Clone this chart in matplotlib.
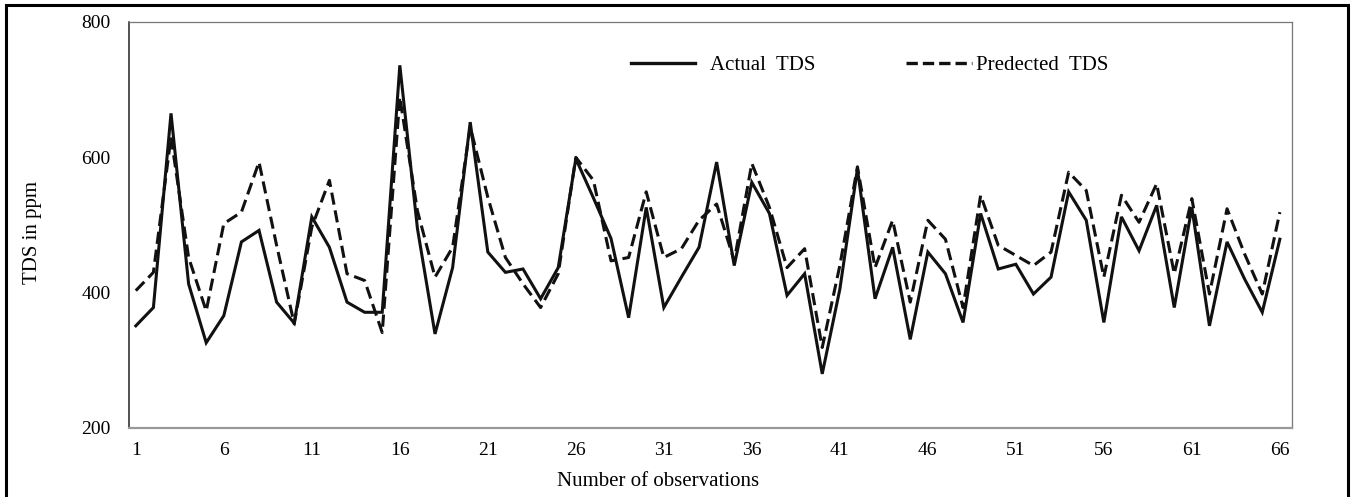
import matplotlib.pyplot as plt
from matplotlib.patches import Rectangle
from matplotlib.lines import Line2D

# values
obs = list(range(1, 67))
actual_tds = [351, 378, 665, 413, 326, 366, 475, 492, 386, 355,
              512, 467, 386, 371, 371, 736, 495, 339, 437, 652,
              460, 430, 435, 391, 437, 598, 540, 480, 363, 526,
              378, 423, 467, 593, 440, 563, 517, 396, 428, 280,
              405, 583, 391, 467, 331, 460, 428, 356, 517, 435,
              442, 398, 423, 549, 507, 356, 512, 462, 529, 378,
              526, 351, 475, 420, 371, 479]
predicted_tds = [403, 430, 630, 452, 373, 502, 519, 593, 470, 354,
                 497, 566, 428, 418, 341, 689, 521, 423, 467, 645,
                 541, 452, 413, 378, 428, 600, 566, 447, 452, 549,
                 452, 465, 507, 531, 447, 591, 526, 437, 465, 319,
                 440, 586, 437, 507, 386, 507, 479, 378, 544, 470,
                 455, 440, 460, 578, 551, 423, 544, 504, 561, 428,
                 539, 398, 524, 457, 398, 519]
xticks = list(range(1, 67, 5))
yticks = [200, 400, 600, 800]

plt.rcParams['font.family'] = ['Liberation Serif', 'DejaVu Serif']

W, H = 1351, 497
fig = plt.figure(figsize=(W / 100, H / 100), dpi=100)
ax = fig.add_axes([128.5 / W, 1 - 428 / H, (1292 - 128.5) / W, (428 - 22) / H])

dash = (0, (4.0, 1.9))
ax.plot(obs, actual_tds, color='#111111', lw=2.2, solid_joinstyle='miter')
ax.plot(obs, predicted_tds, color='#111111', lw=2.2, linestyle=dash)

ax.set_xlim(0.585, 66.69)
ax.set_ylim(200, 800)
ax.set_xticks(xticks)
ax.set_yticks(yticks)
ax.tick_params(length=0, labelsize=14)
ax.tick_params(axis='x', pad=10)
ax.tick_params(axis='y', pad=13)

ax.spines['left'].set_color('#222222')
ax.spines['left'].set_linewidth(1.1)
ax.spines['bottom'].set_color('#999999')
ax.spines['bottom'].set_linewidth(1.6)
for s in ('top', 'right'):
    ax.spines[s].set_color('#777777')
    ax.spines[s].set_linewidth(0.9)

fig.text(658 / W, 1 - 481 / H, 'Number of observations', ha='center', va='center', fontsize=15)
fig.text(33 / W, 1 - 232 / H, 'TDS in ppm', ha='center', va='center', rotation=90, fontsize=15)

# legend, two separate entries like the original
h1 = Line2D([], [], color='#111111', lw=2.4)
h2 = Line2D([], [], color='#111111', lw=2.4, linestyle=(0, (3.4, 1.5)))
leg1 = fig.legend([h1], ['Actual  TDS'], loc='center left', bbox_to_anchor=(631 / W, 1 - 65 / H),
                  frameon=False, fontsize=15, handlelength=3.05, handletextpad=0.75,
                  borderpad=0, borderaxespad=0)
leg2 = fig.legend([h2], ['Predected  TDS'], loc='center left', bbox_to_anchor=(906 / W, 1 - 65 / H),
                  frameon=False, fontsize=15, handlelength=3.15, handletextpad=0.2,
                  borderpad=0, borderaxespad=0)

# outer frame around the whole picture
fig.patches.append(Rectangle((6 / W, -0.02), (1348 - 6) / W, 1.02 - 5 / H, transform=fig.transFigure,
                             fill=False, edgecolor='black', lw=2.2))

fig.savefig('out.png', dpi=100)
